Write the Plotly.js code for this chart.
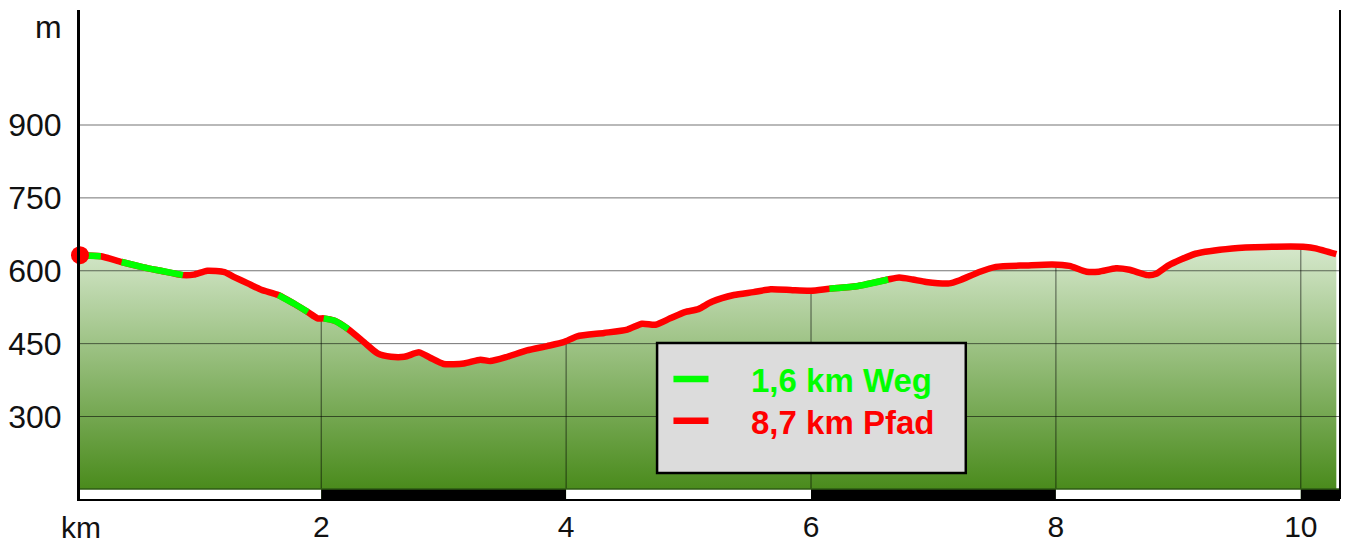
<!DOCTYPE html>
<html>
<head>
<meta charset="utf-8">
<script src="https://cdn.plot.ly/plotly-3.0.1.min.js"></script>
<style>
  html, body { margin: 0; padding: 0; background: #fff; }
  #chart { width: 1346px; height: 545px; }
</style>
</head>
<body>
<div id="chart"></div>
<script>
// ---- data ----
const distanceKm = [0.03, 0.20, 0.37, 0.55, 0.69, 0.87, 0.96, 1.07, 1.21, 1.29, 1.40, 1.51, 1.65, 1.78, 1.89, 1.97, 2.02, 2.11, 2.22, 2.35, 2.46, 2.57, 2.68, 2.80, 2.89, 3.00, 3.165, 3.30, 3.38, 3.52, 3.68, 3.845, 3.98, 4.09, 4.31, 4.50, 4.62, 4.73, 4.85, 4.97, 5.08, 5.19, 5.37, 5.53, 5.67, 5.85, 6.00, 6.15, 6.37, 6.63, 6.72, 6.83, 6.94, 7.13, 7.21, 7.38, 7.51, 7.76, 7.97, 8.11, 8.25, 8.35, 8.49, 8.60, 8.75, 8.82, 8.92, 9.14, 9.44, 9.71, 10.04, 10.12, 10.29];
const elevationM = [632, 630, 618, 607, 600, 591, 592, 600, 597, 587, 574, 561, 550, 532, 515, 502, 502, 497, 480, 453, 430, 423, 423, 432, 421, 408, 409, 417, 414, 423, 436, 445, 453, 465, 472, 479, 491, 489, 502, 515, 521, 536, 550, 556, 562, 560, 559, 563, 568, 582, 586, 582, 577, 574, 580, 598, 608, 611, 613, 610, 598, 598, 605, 602, 591, 594, 611, 635, 646, 649, 649, 646, 634];
// surface of the segment that starts at each point: W = Weg (green), P = Pfad (red)
const surface = ['W','P','W','W','W','P','P','P','P','P','P','P','W','W','P','P','W','W','P','P','P','P','P','P','P','P','P','P','P','P','P','P','P','P','P','P','P','P','P','P','P','P','P','P','P','P','P','W','W','P','P','P','P','P','P','P','P','P','P','P','P','P','P','P','P','P','P','P','P','P','P','P','P'];
const yTicks = [300, 450, 600, 750, 900];
const xTicks = [2, 4, 6, 8, 10];
const legendLabels = ['1,6 km Weg', '8,7 km Pfad'];

// ---- styling ----
const RED = '#ff0000', GREEN = '#00ff00';
const xRange = [0.03, 10.32];
const yRange = [130.2, 1136.7];
const baseY = 151;
const FONT = 'Liberation Sans, Arial, sans-serif';

function interp(x) {
  for (let i = 0; i < distanceKm.length - 1; i++) {
    if (x >= distanceKm[i] && x <= distanceKm[i + 1]) {
      const t = (x - distanceKm[i]) / (distanceKm[i + 1] - distanceKm[i]);
      return elevationM[i] + t * (elevationM[i + 1] - elevationM[i]);
    }
  }
  return elevationM[elevationM.length - 1];
}

const traces = [];
// filled area with vertical gradient
traces.push({
  x: distanceKm, y: elevationM, type: 'scatter', mode: 'lines',
  line: {width: 0, shape: 'spline', smoothing: 0.6},
  fill: 'tozeroy',
  fillgradient: {type: 'vertical', start: baseY, stop: 650,
    colorscale: [[0, '#4a8b1c'], [1, '#d6e8cc']]},
  hoverinfo: 'skip', showlegend: false
});
// horizontal grid lines
yTicks.forEach(v => traces.push({
  x: xRange, y: [v, v], type: 'scatter', mode: 'lines',
  line: {color: 'rgba(0,0,0,0.55)', width: 1}, hoverinfo: 'skip', showlegend: false
}));
// vertical grid lines under the profile
xTicks.forEach(k => traces.push({
  x: [k, k], y: [baseY, interp(k)], type: 'scatter', mode: 'lines',
  line: {color: 'rgba(0,0,0,0.6)', width: 1}, hoverinfo: 'skip', showlegend: false
}));
// full profile in red
traces.push({
  x: distanceKm, y: elevationM, type: 'scatter', mode: 'lines',
  line: {color: RED, width: 6.5, shape: 'spline', smoothing: 0.6},
  hoverinfo: 'skip', showlegend: false
});
// green Weg runs
let i = 0;
while (i < distanceKm.length - 1) {
  if (surface[i] === 'W') {
    let j = i;
    while (j < distanceKm.length - 1 && surface[j] === 'W') j++;
    traces.push({
      x: distanceKm.slice(i, j + 1), y: elevationM.slice(i, j + 1),
      type: 'scatter', mode: 'lines',
      line: {color: GREEN, width: 6.5, shape: 'spline', smoothing: 0.6},
      hoverinfo: 'skip', showlegend: false
    });
    i = j;
  } else i++;
}
// start marker
traces.push({
  x: [distanceKm[0]], y: [elevationM[0]], type: 'scatter', mode: 'markers',
  marker: {color: RED, size: 18}, cliponaxis: false, hoverinfo: 'skip', showlegend: false
});

// bottom km strip
const shapes = [];
const bandEdges = [xRange[0]].concat(xTicks, [xRange[1]]);
for (let b = 0; b < bandEdges.length - 1; b++) {
  shapes.push({type: 'rect', xref: 'x', yref: 'y', layer: 'above',
    x0: bandEdges[b], x1: bandEdges[b + 1], y0: yRange[0], y1: baseY,
    fillcolor: b % 2 === 0 ? '#ffffff' : '#000000', line: {width: 0}});
}
shapes.push({type: 'line', xref: 'x', yref: 'y', layer: 'above',
  x0: xRange[0], x1: xRange[1], y0: baseY, y1: baseY, line: {color: '#2e5a14', width: 1.5}});
// right border
shapes.push({type: 'line', xref: 'paper', yref: 'paper', layer: 'above',
  x0: 1, x1: 1, y0: 0, y1: 1, line: {color: '#000', width: 2}});
// legend box
const LB = {x0: 0.458, x1: 0.703, y0: 0.0532, y1: 0.319};
shapes.push({type: 'rect', xref: 'paper', yref: 'paper', layer: 'above',
  x0: LB.x0, x1: LB.x1, y0: LB.y0, y1: LB.y1, fillcolor: '#dcdcdc', line: {color: '#000', width: 2.5}});
const legendColors = [GREEN, RED];
const legendY = [0.2454, 0.160];
legendColors.forEach((c, k) => shapes.push({type: 'line', xref: 'paper', yref: 'paper', layer: 'above',
  x0: 0.471, x1: 0.4988, y0: legendY[k], y1: legendY[k], line: {color: c, width: 6.5}}));

const annotations = legendLabels.map((t, k) => ({
  xref: 'paper', yref: 'paper', x: 0.531, y: legendY[k] - 0.004, xanchor: 'left', yanchor: 'middle',
  text: '<b>' + t + '</b>', showarrow: false,
  font: {family: FONT, size: 33, color: legendColors[k]}
}));
annotations.push({xref: 'paper', yref: 'paper', x: -0.0127, y: 0.965, xanchor: 'right', yanchor: 'middle',
  text: 'm', showarrow: false, font: {family: FONT, size: 32, color: '#111'}});
annotations.push({xref: 'paper', yref: 'paper', x: 0.0008, y: -0.058, xanchor: 'center', yanchor: 'middle',
  text: 'km', showarrow: false, borderpad: 0, font: {family: FONT, size: 30, color: '#111'}});

const layout = {
  width: 1346, height: 545,
  margin: {l: 80, r: 6, t: 10, b: 46},
  paper_bgcolor: '#fff', plot_bgcolor: '#fff',
  showlegend: false,
  xaxis: {range: xRange, tickvals: xTicks, ticktext: xTicks.map(String),
    showgrid: false, zeroline: false, showline: true, linecolor: '#000', linewidth: 2,
    ticks: 'outside', ticklen: 0, tickcolor: 'rgba(0,0,0,0)',
    tickfont: {family: FONT, size: 30, color: '#111'}, fixedrange: true},
  yaxis: {range: yRange, tickvals: yTicks, ticktext: yTicks.map(String),
    showgrid: false, zeroline: false, showline: true, linecolor: '#000', linewidth: 3,
    ticks: 'outside', ticklen: 9, tickcolor: 'rgba(0,0,0,0)',
    tickfont: {family: FONT, size: 32, color: '#111'}, fixedrange: true},
  shapes: shapes,
  annotations: annotations
};

Plotly.newPlot('chart', traces, layout, {staticPlot: true, displayModeBar: false});
</script>
</body>
</html>
